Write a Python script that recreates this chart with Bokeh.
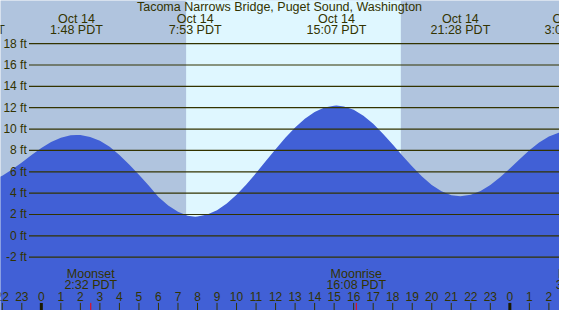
from bokeh.plotting import figure
from bokeh.models import Range1d
from bokeh.embed import file_html
from bokeh.resources import INLINE
from bokeh.core.properties import value

# ---------------- data ----------------
title = "Tacoma Narrows Bridge, Puget Sound, Washington"

# tide height (ft) vs hours from midnight Oct 14 (PDT)
tide_hours = [-2.5, -2.0, -1.5, -1.0, -0.5, 0.0, 0.5, 1.0, 1.5, 1.8,
              2.0, 2.5, 3.0, 3.5, 4.0, 4.5, 5.0, 5.5, 6.0, 6.5, 7.0, 7.5,
              7.883, 8.0, 8.5, 9.0, 9.5, 10.0, 10.5, 11.0, 11.5, 12.0, 12.5,
              13.0, 13.5, 14.0, 14.5, 15.0, 15.117, 15.5, 16.0, 16.5, 17.0,
              17.5, 18.0, 18.5, 19.0, 19.5, 20.0, 20.5, 21.0, 21.467, 22.0,
              22.5, 23.0, 23.5, 24.0, 24.5, 25.0, 25.5, 26.0, 26.5, 27.0]
tide_feet = [5.18, 5.63, 6.21, 6.87, 7.57, 8.22, 8.78, 9.19, 9.41, 9.45,
             9.44, 9.25, 8.90, 8.35, 7.58, 6.68, 5.72, 4.72, 3.63, 2.85, 2.25, 1.89,
             1.80, 1.81, 1.99, 2.40, 3.03, 3.85, 4.81, 5.88, 7.00, 8.12, 9.19,
             10.15, 10.97, 11.60, 12.01, 12.19, 12.20, 12.12, 11.80, 11.24, 10.49,
             9.57, 8.56, 7.51, 6.49, 5.56, 4.77, 4.18, 3.81, 3.70, 3.84,
             4.20, 4.77, 5.49, 6.31, 7.18, 8.02, 8.74, 9.30, 9.65, 9.82]

extreme_hours = [-3.4, 1.8, 7.883, 15.117, 21.467, 27.133]
extreme_dates = ["Oct 13", "Oct 14", "Oct 14", "Oct 14", "Oct 14", "Oct 15"]
extreme_times = ["20:36 PDT", "1:48 PDT", "7:53 PDT", "15:07 PDT", "21:28 PDT", "3:08 PDT"]

sunrise_hour = [7.417]
sunset_hour = [18.417]

moon_hours = [2.533, 16.133, 27.7]
moon_events = ["Moonset", "Moonrise", "Moonset"]
moon_times = ["2:32 PDT", "16:08 PDT", "3:42 PDT"]

level_ft = [-2, 0, 2, 4, 6, 8, 10, 12, 14, 16, 18]
level_labels = ["-2 ft", "0 ft", "2 ft", "4 ft", "6 ft", "8 ft", "10 ft",
                "12 ft", "14 ft", "16 ft", "18 ft"]

hour_ticks = list(range(-2, 27))
hour_labels = [str(h % 24) for h in hour_ticks]

# ---------------- layout ----------------
X0_PX, PX_PER_H = 42.0, 20.08
Y0_PX, PX_PER_FT = 247.5, 11.23


def hx(px):
    return (px - X0_PX) / PX_PER_H


def fy(py):
    return (Y0_PX - py) / PX_PER_FT


NIGHT = "#B0C4DE"
DAY = "#DFF7FF"
WATER = "#4160D6"
INK = "#333300"
FONT = value("Liberation Sans")

p = figure(width=559, height=310, output_backend="svg", toolbar_location=None,
           x_range=Range1d(hx(0), hx(575)), y_range=Range1d(fy(326), fy(0)),
           x_axis_location=None, y_axis_location=None,
           background_fill_color=NIGHT, border_fill_color=NIGHT,
           outline_line_color=None, min_border=0)
p.grid.visible = False

# daylight band
p.quad(left=sunrise_hour, right=sunset_hour, bottom=fy(330), top=fy(-4),
       fill_color=DAY, line_color=None)

# tide
p.varea(x=tide_hours, y1=[fy(330)] * len(tide_hours), y2=tide_feet,
        fill_color=WATER)

# level lines
p.segment(x0=[hx(29.3)] * len(level_ft), y0=level_ft,
          x1=[hx(580)] * len(level_ft), y1=level_ft,
          line_color=INK, line_width=1.2)
p.text(x=[hx(27)] * len(level_ft), y=level_ft, text=level_labels,
       text_align="right", text_baseline="middle", text_font=FONT,
       text_font_size="12px", text_color=INK)

# title + tide extremes
p.text(x=[hx(287)], y=[fy(7.3)], text=[title], text_align="center",
       text_baseline="middle", text_font=FONT, text_font_size="12.5px",
       text_color=INK)
p.text(x=extreme_hours, y=[fy(19.3)] * len(extreme_hours), text=extreme_dates,
       text_align="center", text_baseline="middle", text_font=FONT,
       text_font_size="12.5px", text_color=INK)
p.text(x=extreme_hours, y=[fy(31.5)] * len(extreme_hours), text=extreme_times,
       text_align="center", text_baseline="middle", text_font=FONT,
       text_font_size="12.5px", text_color=INK)

# moon events
p.text(x=moon_hours, y=[fy(287.3)] * len(moon_hours), text=moon_events,
       text_align="center", text_baseline="middle", text_font=FONT,
       text_font_size="12.5px", text_color=INK)
p.text(x=moon_hours, y=[fy(299.3)] * len(moon_hours), text=moon_times,
       text_align="center", text_baseline="middle", text_font=FONT,
       text_font_size="12.5px", text_color=INK)

# hour labels and ticks
p.text(x=hour_ticks, y=[fy(311.5)] * len(hour_ticks), text=hour_labels,
       text_align="center", text_baseline="middle", text_font=FONT,
       text_font_size="12px", text_color=INK)
minor = [h for h in hour_ticks if h % 24 != 0]
major = [h for h in hour_ticks if h % 24 == 0]
p.segment(x0=minor, y0=[fy(318)] * len(minor), x1=minor, y1=[fy(330)] * len(minor),
          line_color=INK, line_width=1)
p.segment(x0=major, y0=[fy(318)] * len(major), x1=major, y1=[fy(330)] * len(major),
          line_color="#1a1a00", line_width=3)
p.segment(x0=moon_hours, y0=[fy(318)] * len(moon_hours), x1=moon_hours,
          y1=[fy(330)] * len(moon_hours), line_color="#FF0000", line_width=1)

open("out.html", "w").write(file_html(p, INLINE))
